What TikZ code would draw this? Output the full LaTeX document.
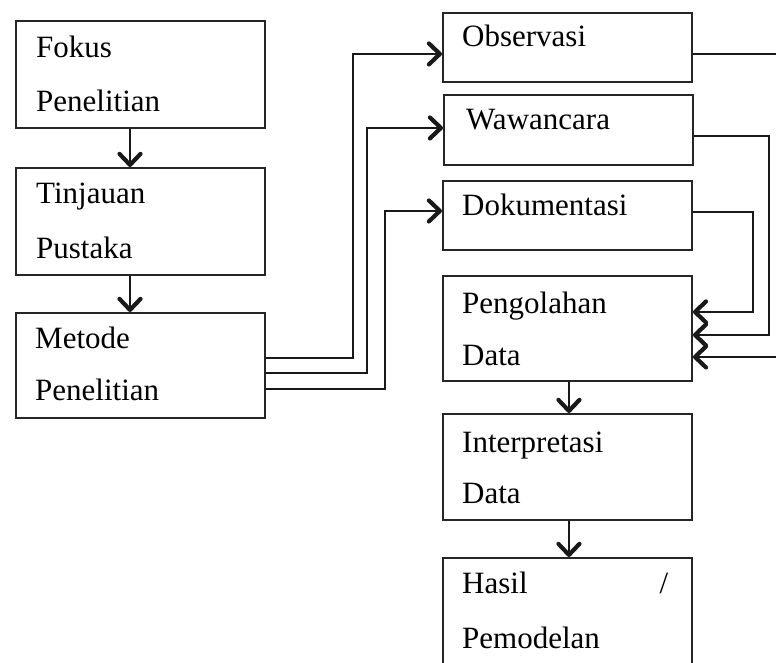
\documentclass[tikz,border=0pt]{standalone}
\usepackage{fontspec}
\setmainfont{Liberation Serif}
\usetikzlibrary{arrows.meta}
\begin{document}
\begin{tikzpicture}[x=1pt,y=-1pt,
  box/.style={draw=black!85,line width=1.9pt,minimum width=#1,minimum height=0pt,inner sep=0pt,anchor=north west},
  box/.default=249pt,
  txt/.style={anchor=base west,inner sep=0pt,font=\fontsize{31}{31}\selectfont},
  conn/.style={draw=black!90,line width=2pt},
  arr/.style={conn,-{Straight Barb[length=11pt,width=21pt,line width=4.2pt,round]}}]
\useasboundingbox (0,0) rectangle (776,663);
\clip (0,0) rectangle (776,663);
% left column
\node[box,minimum height=107pt] (fokus) at (15,20) {};
\node[box,minimum height=107pt] (tinj) at (15,167) {};
\node[box,minimum height=105pt] (metode) at (15,312) {};
\node[txt] (t1a) at (36,58) {Fokus};
\node[txt] (t1b) at (36,112) {Penelitian};
\node[txt] (t2a) at (36,204) {Tinjauan};
\node[txt] (t2b) at (36,258) {Pustaka};
\node[txt] (t3a) at (35,348) {Metode};
\node[txt] (t3b) at (35,400) {Penelitian};
% right column
\node[box,minimum height=69pt] (obs) at (442,12) {};
\node[box,minimum height=70pt] (wawa) at (443,94) {};
\node[box,minimum height=69pt] (doku) at (442,180) {};
\node[box,minimum height=105pt] (peng) at (442,275) {};
\node[box,minimum height=106pt] (interp) at (442,413) {};
\node[box,minimum height=115pt] (hasil) at (442,557) {};
\node[txt] (t4) at (462,47) {Observasi};
\node[txt] (t5) at (466,130) {Wawancara};
\node[txt] (t6) at (462,215) {Dokumentasi};
\node[txt] (t7a) at (462,313) {Pengolahan};
\node[txt] (t7b) at (462,365) {Data};
\node[txt] (t8a) at (462,452) {Interpretasi};
\node[txt] (t8b) at (462,503) {Data};
\node[txt] (t9a) at (462,593) {\makebox[206pt][l]{Hasil\hfill/}};
\node[txt] (t9b) at (462,648) {Pemodelan};
% route columns
\coordinate (lx) at (130,0);
\coordinate (v1) at (353,0);
\coordinate (v2) at (367,0);
\coordinate (v3) at (385,0);
\coordinate (w1) at (790,0);
\coordinate (w2) at (769,0);
\coordinate (w3) at (753,0);
% connector ends
\coordinate (m1) at ([yshift=7.5pt]metode.east);
\coordinate (m2) at ([yshift=-7.5pt]metode.east);
\coordinate (m3) at ([yshift=-23.5pt]metode.east);
\coordinate (oi) at ([yshift=-6.5pt]obs.west);
\coordinate (wi) at ([yshift=2pt]wawa.west);
\coordinate (di) at ([yshift=4.5pt]doku.west);
\coordinate (oo) at ([yshift=-6.5pt]obs.east);
\coordinate (wo) at ([yshift=-6pt]wawa.east);
\coordinate (do) at ([yshift=3.5pt]doku.east);
\coordinate (p1) at ([yshift=16.5pt]peng.east);
\coordinate (p2) at ([yshift=-6.5pt]peng.east);
\coordinate (p3) at ([yshift=-28.5pt]peng.east);
% vertical arrows
\draw[arr] (fokus.south -| lx) -- (tinj.north -| lx);
\draw[arr] (tinj.south -| lx) -- (metode.north -| lx);
\draw[arr] ([xshift=1.5pt]peng.south) -- ([xshift=1.5pt]interp.north);
\draw[arr] ([xshift=1.5pt]interp.south) -- ([xshift=1.5pt]hasil.north);
% metode to data collection
\draw[arr] (m1) -- (m1 -| v1) |- (oi);
\draw[arr] (m2) -- (m2 -| v2) |- (wi);
\draw[arr] (m3) -- (m3 -| v3) |- (di);
% data collection to pengolahan
\draw[arr] (oo) -- (oo -| w1) |- (p3);
\draw[arr] (wo) -- (wo -| w2) |- (p2);
\draw[arr] (do) -- (do -| w3) |- (p1);
\end{tikzpicture}
\end{document}
